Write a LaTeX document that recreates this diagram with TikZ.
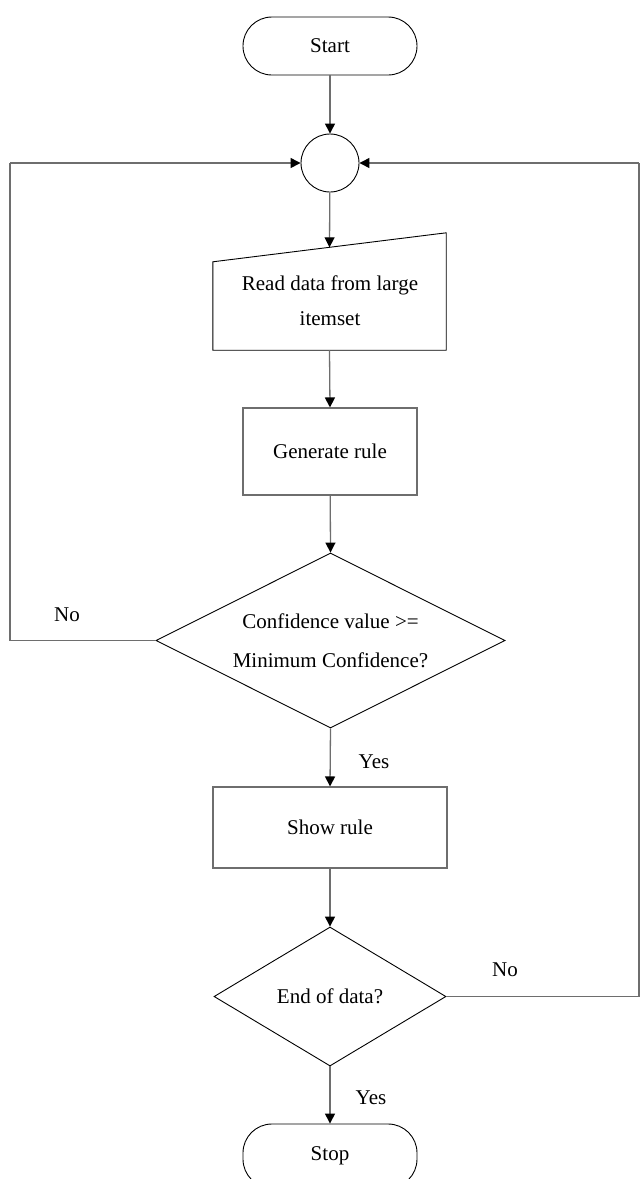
\documentclass[tikz,border=0pt]{standalone}
\usepackage{fontspec}
\setmainfont{Liberation Serif}
\usetikzlibrary{arrows.meta,shapes.geometric,calc}

\definecolor{linegray}{RGB}{110,110,110}

\begin{document}
\begin{tikzpicture}[x=1pt,y=-1pt,
  every node/.style={font=\fontsize{21}{25}\selectfont},
  outline/.style={draw=black,line width=0.9pt},
  terminal/.style={outline,rectangle,rounded corners=28.9pt,minimum width=174pt,minimum height=58pt,inner sep=0pt},
  joint/.style={outline,circle,minimum size=58pt,inner sep=0pt},
  procbox/.style={draw=linegray,line width=1.1pt,rectangle,inner sep=0pt},
  decision/.style={outline,diamond,aspect=2,inner sep=0pt,align=center},
  conn/.style={draw=linegray,line width=1.3pt},
  arr/.style={conn,-{Triangle[length=10pt,width=10pt,color=black]}},
  lbl/.style={inner sep=0pt}
]
\useasboundingbox (0,0) rectangle (640,1179);

% start / stop terminals and the junction circle
\node[terminal] (start) at (330,46) {Start};
\node[joint] (join) at (330,163) {};

% manual input: slanted top edge
\node[minimum width=233pt,minimum height=117pt,inner sep=0pt] (read) at (329.5,291.5) {};
\coordinate (rdtl) at ($(read.north west)+(0,29)$);
\draw[outline] (read.south west) -- (rdtl) -- (read.north east) -- (read.south east) -- cycle;
\coordinate (readin) at ($(rdtl)!0.5!(read.north east)$);
\node[align=center,inner sep=0pt] (readtxt) at (330,300.5) {Read data from large\\[10pt]itemset};

\node[procbox,minimum width=174pt,minimum height=87pt] (gen) at (330,451.5) {Generate rule};

\node[decision,minimum width=349pt,minimum height=175pt] (conf) at (330.5,640.5)
  {Confidence value >=\\[14pt]Minimum Confidence?};

\node[procbox,minimum width=234pt,minimum height=81pt] (show) at (330,827.5) {Show rule};

\node[decision,minimum width=232pt,minimum height=139pt] (endq) at (330,996.5) {End of data?};

\node[terminal,minimum height=64pt] (stop) at (330,1156) {Stop};

% loop-back corners
\coordinate (lft) at (10,163);
\coordinate (rgt) at (639,163);

% main flow
\draw[arr] (start) -- (join);
\draw[arr] (join) -- (readin);
\draw[arr] (read.south) -- (gen.north);
\draw[arr] (gen) -- (conf.north);
\draw[arr] (conf.south) -- (show.north);
\draw[arr] (show) -- (endq.north);
\draw[arr] (endq.south) -- (stop.north);

% loops back to the junction
\draw[conn] (conf.west) -| (lft);
\draw[arr] (lft) -- (join.west);
\draw[conn] (endq.east) -| (rgt);
\draw[arr] (rgt) -- (join.east);

% branch labels
\node[lbl] (no1) at (67,615) {No};
\node[lbl] (yes1) at (374,762) {Yes};
\node[lbl] (no2) at (505,970) {No};
\node[lbl] (yes2) at (371,1098) {Yes};
\end{tikzpicture}
\end{document}
